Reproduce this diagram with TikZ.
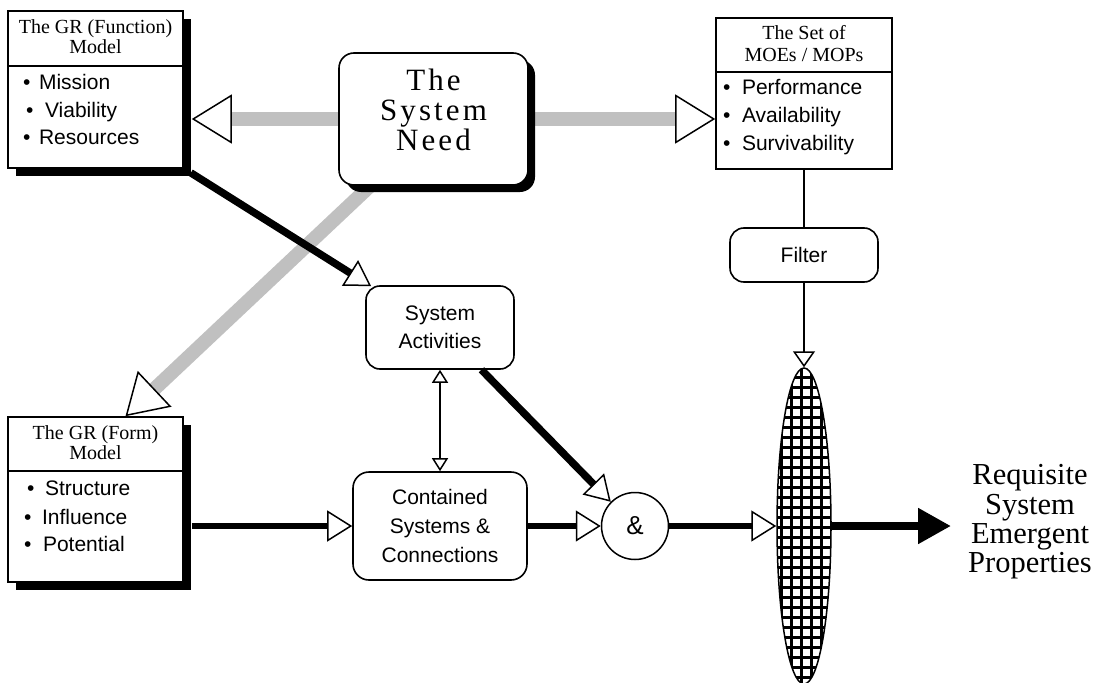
\documentclass[tikz,border=0pt]{standalone}
\usepackage{fontspec}
\setmainfont{Liberation Serif}
\setsansfont{Liberation Sans}
\newfontfamily\spacedserif[LetterSpace=10]{Liberation Serif}
\usetikzlibrary{arrows.meta,shapes.geometric,shadows,calc,backgrounds}

\definecolor{linegray}{RGB}{192,192,192}

\tikzset{
  box/.style={draw, line width=1.6pt, fill=white, inner sep=0pt},
  modelbox/.style={box, minimum width=175pt,
    drop shadow={shadow xshift=8pt, shadow yshift=-8pt, fill=black, opacity=1}},
  roundbox/.style={box, rounded corners=14pt, align=center,
    font=\sffamily\fontsize{21}{28}\selectfont},
  hdr/.style={align=center, inner sep=0pt, font=\fontsize{20}{20}\selectfont},
  bul/.style={anchor=base west, inner sep=0pt, font=\sffamily\fontsize{21}{21}\selectfont},
  opentip/.style n args={2}{-{Triangle[length=#1pt,width=#2pt,line width=1.5pt,color=black,fill=white]}},
  grayline/.style={line width=14pt, draw=linegray, opentip={40}{49}},
  heavyflow/.style={line width=7.5pt, opentip={25}{30}},
  flow/.style={line width=6pt, opentip={25}{31}},
  thinline/.style={line width=2pt},
}

\begin{document}
\begin{tikzpicture}[x=1pt,y=-1pt]
\useasboundingbox (0,0) rectangle (1099,682);

% --- the three model boxes -------------------------------------------
\node[modelbox, minimum height=157pt] (func) at (95.5,89.5) {};
\draw[line width=1.6pt] (func.west |- 0,66) -- (func.east |- 0,66);
\node[hdr] (funchdr) at (95.5,36.5) {The GR (Function)\\Model};
\node[bul] (f1) at (23,89.5)  {\textbullet\hspace{8.5pt}Mission};
\node[bul] (f2) at (26,117.5) {\textbullet\hspace{11.5pt}Viability};
\node[bul] (f3) at (23,144.5) {\textbullet\hspace{8.5pt}Resources};

\node[modelbox, minimum height=165pt] (form) at (95.5,499.5) {};
\draw[line width=1.6pt] (form.west |- 0,471) -- (form.east |- 0,471);
\node[hdr] (formhdr) at (95.5,442.6) {The GR (Form)\\Model};
\node[bul] (g1) at (27,495.5) {\textbullet\hspace{10.5pt}Structure};
\node[bul] (g2) at (24,524.5) {\textbullet\hspace{10.5pt}Influence};
\node[bul] (g3) at (24,551.5) {\textbullet\hspace{11.5pt}Potential};

\node[box, minimum width=176pt, minimum height=151pt] (moe) at (804,93.5) {};
\draw[line width=1.6pt] (moe.west |- 0,72) -- (moe.east |- 0,72);
\node[hdr, font=\fontsize{20}{22}\selectfont] (moehdr) at (804,43.6) {The Set of\\MOEs / MOPs};
\node[bul] (m1) at (723,95)  {\textbullet\hspace{11.5pt}Performance};
\node[bul] (m2) at (723,123) {\textbullet\hspace{11.5pt}Availability};
\node[bul] (m3) at (723,150) {\textbullet\hspace{11.5pt}Survivability};

% --- the system need -----------------------------------------------------
\node[box, rounded corners=15pt, minimum width=189pt, minimum height=132pt,
      drop shadow={shadow xshift=7pt, shadow yshift=-7pt, fill=black, opacity=1}]
      (need) at (433.5,119) {};
\node[align=center, inner sep=0pt, font=\spacedserif\fontsize{31}{30}\selectfont]
      (needtxt) at (433.5,110) {The\\System\\Need};

% --- process boxes -----------------------------------------------------
\node[roundbox, minimum width=148pt, minimum height=54pt] (filter) at (804,255) {Filter};
\node[roundbox, minimum width=148pt, minimum height=83pt] (acts) at (440,327.5) {System\\Activities};
\node[roundbox, rounded corners=16pt, minimum width=174pt, minimum height=108pt,
      font=\sffamily\fontsize{21}{29}\selectfont] (cont) at (440,526) {Contained\\Systems \&\\Connections};
\node[circle, draw, line width=1.5pt, fill=white, minimum size=67pt, inner sep=0pt,
      font=\sffamily\fontsize{26}{26}\selectfont] (amp) at (635,526) {\&};

% --- gridded lens ----------------------------------------------------------
\fill[white] (804,526) ellipse [x radius=27pt, y radius=158pt];
\begin{scope}
  \clip (804,526) ellipse [x radius=27pt, y radius=158pt];
  \foreach \gx in {771.7,781.7,...,832} \draw[line width=3.4pt] (\gx,360) -- (\gx,700);
  \foreach \gy in {367.3,377.3,...,690} \draw[line width=3.4pt] (770,\gy) -- (840,\gy);
\end{scope}
\node[ellipse, draw, line width=1.5pt, minimum width=54pt, minimum height=316pt, inner sep=0pt]
      (lens) at (804,526) {};

% --- grey links behind everything -----------------------------------------
\begin{scope}[on background layer]
  \draw[grayline] (need.west) -- ([xshift=8pt]need.west -| func.east);
  \draw[grayline] (need.east) -- (need.east -| moe.west);
  \draw[grayline] ($(need.south west)+(32,0)$) -- ($(form.north)+(30,0)$);
\end{scope}

% --- black links ----------------------------------------------------------
\draw[heavyflow] ($(func.south east)+(7,4)$) -- ($(acts.north west)+(6,1)$);
\draw[heavyflow] (acts) -- (amp.north west);
\draw[flow] ($(cont.west -| form.east)+(8,0)$) -- (cont.west);
\draw[flow] (cont.east) -- (amp.west);
\draw[flow] (amp.east) -- (lens.west);
\draw[thinline] (moe.south) -- (filter.north);
\draw[thinline, opentip={16}{22}] (filter.south) -- (lens.north);
\draw[line width=1.5pt,
      {Triangle[length=13pt,width=16pt,line width=1.5pt,color=black,fill=white]}-{Triangle[length=13pt,width=16pt,line width=1.5pt,color=black,fill=white]}]
      (acts.south) -- (cont.north);

\coordinate (outtip) at (951,526);
\draw[line width=8pt, -{Triangle[length=33pt,width=34pt]}] (lens.east) -- (outtip);
\node[align=center, inner sep=0pt, font=\fontsize{30.5}{29.3}\selectfont]
      (req) at (1030,522) {Requisite\\System\\Emergent\\Properties};
\end{tikzpicture}
\end{document}
